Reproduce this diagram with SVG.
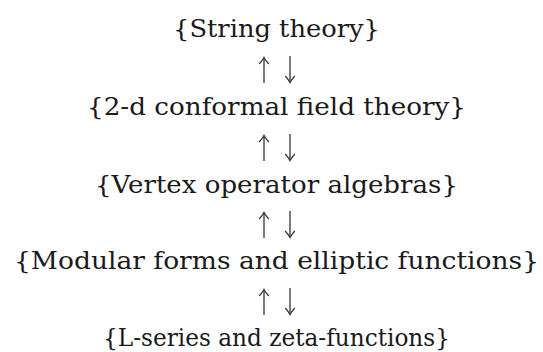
<svg xmlns="http://www.w3.org/2000/svg" width="543" height="352" viewBox="0 0 543 352">
<defs>
<style>
.t{font-family:"DejaVu Serif",serif;font-size:23.5px;fill:#1a1a1a;text-anchor:middle}
.a{stroke:#333;stroke-width:1.3;fill:none;marker-end:url(#h)}
</style>
<marker id="h" markerUnits="userSpaceOnUse" markerWidth="14" markerHeight="14" refX="0" refY="0" viewBox="-8 -7 10 14" orient="auto" overflow="visible">
<path d="M-6.5,-4.8 Q-2.5,-1.2 0,0 Q-2.5,1.2 -6.5,4.8" stroke="#333" stroke-width="1.2" fill="none"/>
</marker>
</defs>
<rect width="543" height="352" fill="#fff"/>
<g id="n1"><text class="t" x="276.5" y="37" textLength="207" lengthAdjust="spacingAndGlyphs">{String theory}</text></g>
<g id="n2"><text class="t" x="276.5" y="115" textLength="379" lengthAdjust="spacingAndGlyphs">{2-d conformal field theory}</text></g>
<g id="n3"><text class="t" x="276.5" y="193" textLength="363" lengthAdjust="spacingAndGlyphs">{Vertex operator algebras}</text></g>
<g id="n4"><text class="t" x="276.5" y="269" textLength="525" lengthAdjust="spacingAndGlyphs">{Modular forms and elliptic functions}</text></g>
<g id="n5"><text class="t" x="276.5" y="346" textLength="347" lengthAdjust="spacingAndGlyphs">{L-series and zeta-functions}</text></g>
<g id="connectors">
<path class="a" d="M264,83 V57.5"/>
<path class="a" d="M290,56 V82.5"/>
<path class="a" d="M264,161 V135.5"/>
<path class="a" d="M290,134 V160.5"/>
<path class="a" d="M264,238 V212.5"/>
<path class="a" d="M290,211 V237.5"/>
<path class="a" d="M264,315 V289.5"/>
<path class="a" d="M290,288 V314.5"/>
</g>
</svg>
